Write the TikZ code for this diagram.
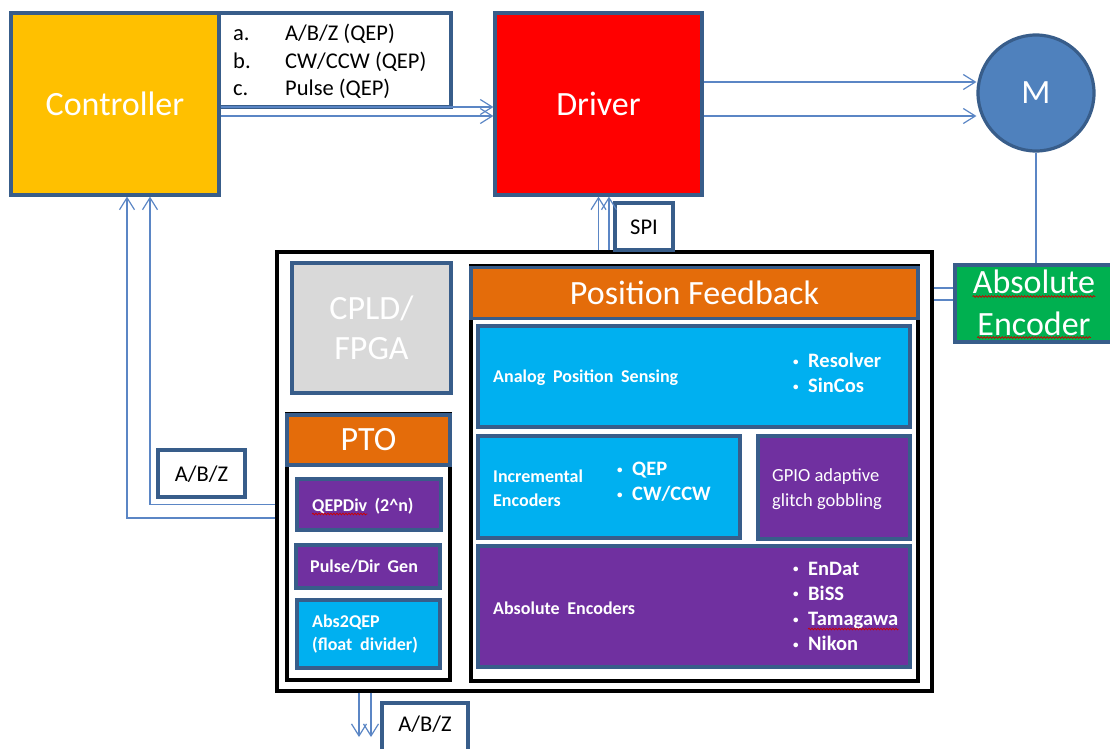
\documentclass[tikz,border=0pt]{standalone}
\usepackage{fontspec}
\setmainfont{Carlito}
\newfontfamily\lblfont[WordSpace=1.9]{Carlito}
\usetikzlibrary{arrows.meta,decorations.pathmorphing,calc}
\definecolor{edge}{HTML}{385D8A}
\definecolor{wire}{HTML}{5B86C5}
\definecolor{ctrlc}{HTML}{FFC000}
\definecolor{drvc}{HTML}{FF0000}
\definecolor{motorc}{HTML}{4F81BD}
\definecolor{encc}{HTML}{00B050}
\definecolor{hdrc}{HTML}{E46C0A}
\definecolor{cyanc}{HTML}{00B0F0}
\definecolor{purpc}{HTML}{7030A0}
\definecolor{grayc}{HTML}{D9D9D9}
% small list bullet
\newcommand{\bdot}{\makebox[15pt][l]{\raisebox{2.5pt}{\fontsize{11}{11}\selectfont\textbullet}}}
\begin{document}
\begin{tikzpicture}[x=1pt,y=-1pt,
  blk/.style={draw=edge, line width=3.2pt, rectangle, inner sep=0pt},
  frame/.style={draw=black, line width=3.2pt, rectangle, inner sep=0pt},
  link/.style={draw=wire, line width=1.2pt},
  arr/.style={link, -{Straight Barb[length=12pt,width=15pt,line width=1.2pt]}},
  big/.style={text=white, font=\fontsize{34}{40}\selectfont},
  bigt/.style={big, inner sep=0pt, anchor=base},
  mid/.style={font=\fontsize{22.5}{27}\selectfont, inner sep=0pt, anchor=base west},
  lbl/.style={text=white, font=\lblfont\bfseries\fontsize{18}{21}\selectfont, anchor=base west, inner sep=0pt},
  lblr/.style={text=white, font=\fontsize{18.5}{21}\selectfont, anchor=base west, inner sep=0pt},
  bul/.style={text=white, font=\bfseries\fontsize{20.5}{24}\selectfont, anchor=base west, inner sep=0pt},
  squig/.style={draw=red!80!black, line width=0.7pt, decorate,
    decoration={snake, amplitude=0.9pt, segment length=3pt}},
]
\useasboundingbox (0,0) rectangle (1110,748);

% top row
\node[blk, fill=ctrlc, minimum width=208pt, minimum height=182pt, big] (ctrl) at (115,104) {Controller};
\node[blk, fill=white, minimum width=232pt, minimum height=94pt] (list) at (335,60) {};
\node[mid] (la) at (233,40.5) {a.};
\node[mid] (lat) at (285,40.5) {A/B/Z (QEP)};
\node[mid] (lb) at (233,68) {b.};
\node[mid] (lbt) at (285,68) {CW/CCW (QEP)};
\node[mid] (lc) at (233,95) {c.};
\node[mid] (lct) at (285,95) {Pulse (QEP)};
\node[blk, fill=drvc, minimum width=207pt, minimum height=182pt, big] (drv) at (598.5,104) {Driver};
\node[circle, draw=edge, line width=3.2pt, fill=motorc, minimum size=116pt, inner sep=0pt, big] (m) at (1036,93) {M};

% encoder
\node[blk, fill=encc, minimum width=158pt, minimum height=77pt] (enc) at (1034,303.5) {};
\node[bigt] (encA) at (1034,293) {Absolute};
\node[bigt] (encB) at (1034,335) {Encoder};

% main board
\node[frame, minimum width=655pt, minimum height=439pt] (main) at (604.5,471.5) {};
\node[blk, fill=white, minimum width=58pt, minimum height=47pt] (spi) at (644,226.5) {};
\node[mid, anchor=base] (spit) at (644,234) {SPI};
\node[blk, fill=grayc, minimum width=159pt, minimum height=130pt, big, align=center] (cpld) at (371.5,328) {CPLD/\\FPGA};

% PTO
\node[frame, minimum width=163pt, minimum height=266pt] (ptof) at (368.5,547) {};
\node[blk, fill=hdrc, minimum width=163pt, minimum height=50pt, big] (pto) at (368.5,440) {PTO};
\node[blk, fill=purpc, minimum width=144pt, minimum height=51pt] (qep) at (369,504.5) {};
\node[lbl] (qept) at (312,511.5) {QEPDiv};
\node[lbl] (qepn) at ([xshift=7pt]qept.base east) {(2\textasciicircum n)};
\node[blk, fill=purpc, minimum width=144pt, minimum height=43pt] (pdg) at (368,566.5) {};
\node[lbl] (pdgt) at (310,572) {Pulse/Dir Gen};
\node[blk, fill=cyanc, minimum width=143pt, minimum height=68pt] (a2q) at (368.5,634) {};
\node[lbl] (a2qa) at (312,627.5) {Abs2QEP};
\node[lbl] (a2qb) at (312,650.5) {(float divider)};

% position feedback
\node[frame, minimum width=447pt, minimum height=415pt] (pff) at (694.5,473.5) {};
\node[blk, fill=hdrc, minimum width=447pt, minimum height=51pt, big] (pf) at (694.5,293) {Position Feedback};

\node[blk, fill=cyanc, minimum width=432pt, minimum height=101pt] (aps) at (694,376.5) {};
\node[lbl] (apst) at (493,382.5) {Analog Position Sensing};
\node[bul] (res) at (793,367.5) {\bdot Resolver};
\node[bul] (sc) at (793,392.5) {\bdot SinCos};

\node[blk, fill=cyanc, minimum width=262pt, minimum height=102pt] (inc) at (609,487) {};
\node[lbl] (inca) at (493,482) {Incremental};
\node[lbl] (incb) at (493,506) {Encoders};
\node[bul] (iq) at (617,475.5) {\bdot QEP};
\node[bul] (icw) at (617,500.5) {\bdot CW/CCW};

\node[blk, fill=purpc, minimum width=152pt, minimum height=103pt] (gpio) at (834,487.5) {};
\node[lblr] (gpa) at (772,481.5) {GPIO adaptive};
\node[lblr] (gpb) at (772,506) {glitch gobbling};

\node[blk, fill=purpc, minimum width=432pt, minimum height=121pt] (abse) at (694,606.5) {};
\node[lbl] (abst) at (493,614) {Absolute Encoders};
\node[bul] (endat) at (793,575) {\bdot EnDat};
\node[bul] (biss) at (793,600) {\bdot BiSS};
\node[bul] (tama) at (793,625.5) {\bdot Tamagawa};
\node[bul] (nikon) at (793,650.5) {\bdot Nikon};

% signal labels
\node[blk, fill=white, minimum width=87pt, minimum height=47pt] (abzl) at (201.5,473.5) {};
\node[mid, anchor=base] (abzlt) at (201.5,481) {A/B/Z};
\node[blk, fill=white, minimum width=86pt, minimum height=49pt] (abzb) at (425,727.5) {};
\node[mid, anchor=base] (abzbt) at (425,731.5) {A/B/Z};

% spelling marks
\draw[squig] ([yshift=-3.5pt]encA.base west) -- ([yshift=-3.5pt]encA.base east);
\draw[squig] ([yshift=-2.5pt]encB.base west) -- ([yshift=-2.5pt]encB.base east);
\draw[squig] ([yshift=-2.5pt]qept.base west) -- ([yshift=-2.5pt]qept.base east);
\draw[squig] ([xshift=15pt,yshift=-3.5pt]tama.base west) -- ([yshift=-3.5pt]tama.base east);

% connectors
\coordinate (k1) at ([yshift=-3pt]ctrl.east);
\coordinate (k2) at ([yshift=-12pt]ctrl.east);
\draw[arr] (k1) -- (k1 -| drv.west);
\draw[arr] (k2) -- (k2 -| drv.west);

\coordinate (d1) at ([yshift=22pt]drv.east);
\coordinate (d2) at ([yshift=-12pt]drv.east);
\draw[arr] (d1) -- (d1 -| m.west);
\draw[arr] (d2) -- (d2 -| m.west);

\draw[link] (m.south) -- (m.south |- enc.north);

\coordinate (e1) at ([yshift=15.5pt]enc.west);
\coordinate (e2) at ([yshift=3.5pt]enc.west);
\draw[link] (e1 -| main.east) -- (e1);
\draw[link] (e2 -| main.east) -- (e2);

\coordinate (s1) at (drv.south);
\coordinate (s2) at ([xshift=10.5pt]drv.south);
\draw[arr] (s1 |- main.north) -- (s1);
\draw[arr] (s2 |- main.north) -- (s2);

\coordinate (r1) at (qep.west);
\coordinate (r2) at ([yshift=-13.5pt]qep.west);
\coordinate (c1) at ([xshift=35pt]ctrl.south);
\coordinate (c2) at ([xshift=12pt]ctrl.south);
\draw[arr] (r1 -| main.west) -| (c1);
\draw[arr] (r2 -| main.west) -| (c2);

\coordinate (o1) at (359,737);
\coordinate (o2) at (371,737);
\draw[arr] (o1 |- main.south) -- (o1);
\draw[arr] (o2 |- main.south) -- (o2);
\end{tikzpicture}
\end{document}
